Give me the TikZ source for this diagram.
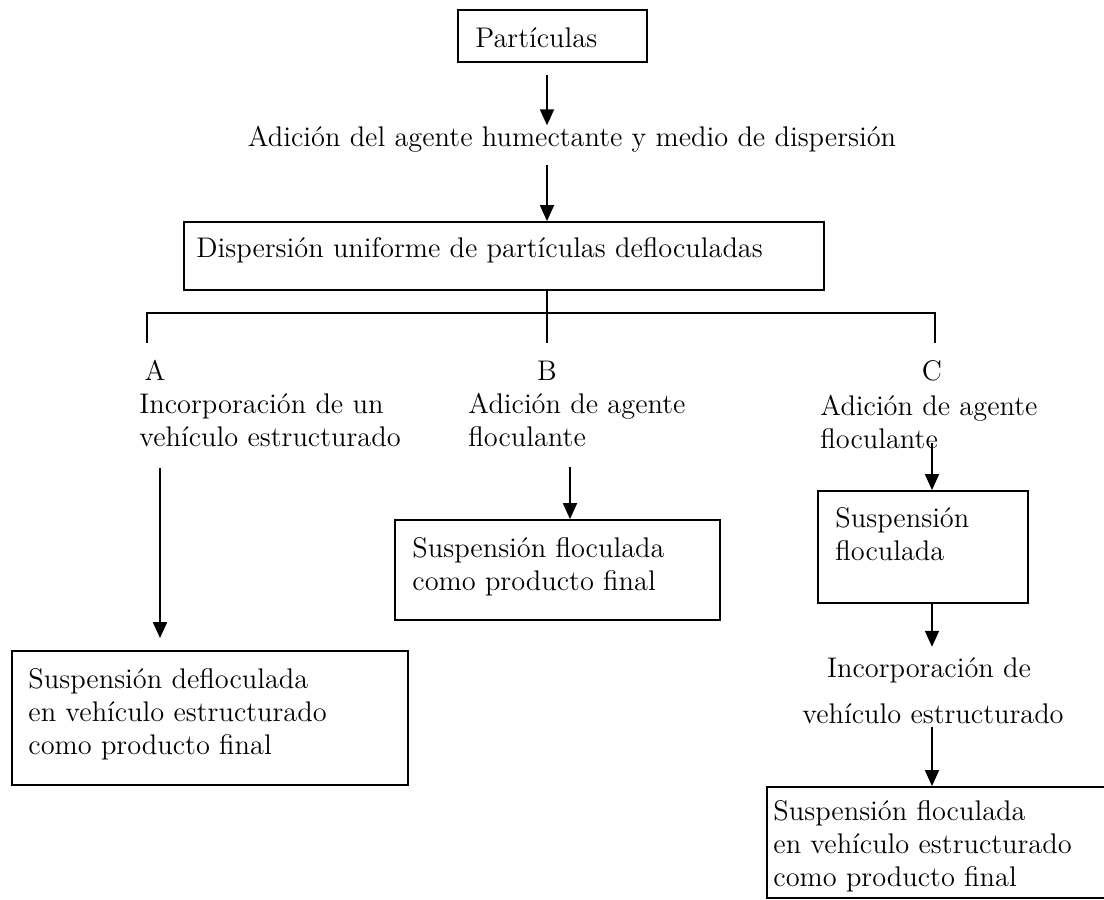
\documentclass[tikz,border=0pt]{standalone}
\usetikzlibrary{arrows.meta,fit}
\begin{document}
\begin{tikzpicture}[x=0.5pt,y=-0.5pt]
\tikzstyle{box node}=[rectangle,draw,line width=0.9pt,inner sep=0]
\tikzstyle{text node}=[inner sep=0,font=\fontsize{14.2}{16.5}\selectfont,align=left]
\tikzset{
	arr/.style={line width=0.9pt,-{Triangle[width=7pt,length=8pt]}},
	line/.style={line width=0.9pt}
}
\useasboundingbox (0,0) rectangle (1104,900);
% boxes
\node[box node,fit={(458,10) (647,62)}] (part) {};
\node[box node,fit={(184,222) (824,290)}] (disp) {};
\node[box node,fit={(12,651) (408,785)}] (boxA) {};
\node[box node,fit={(395,520) (720,620)}] (boxB) {};
\node[box node,fit={(818,491) (1028,603)}] (boxC) {};
\node[box node,fit={(767,787) (1112,898)}] (boxD) {};
% texts (base = last line)
\node[text node,anchor=base west] (parttxt) at (475,47) {Partículas};
\node[text node,anchor=base] (humect) at (572,146) {Adición del agente humectante y medio de dispersión};
\node[text node,anchor=base west] (disptxt) at (196,257) {Dispersión uniforme de partículas defloculadas};
\node[text node,anchor=base] (A) at (155,380) {A};
\node[text node,anchor=base] (B) at (547,380) {B};
\node[text node,anchor=base] (C) at (932,380) {C};
\node[text node,anchor=base west] (txtA) at (139,446) {Incorporación de un\\vehículo estructurado};
\node[text node,anchor=base west] (txtB) at (468,446) {Adición de agente\\floculante};
\node[text node,anchor=base west] (txtC) at (820,448) {Adición de agente\\floculante};
\node[text node,anchor=base west] (txtboxA) at (28,754) {Suspensión defloculada\\en vehículo estructurado\\como producto final};
\node[text node,anchor=base west] (txtboxB) at (412,590) {Suspensión floculada\\como producto final};
\node[text node,anchor=base west] (txtboxC) at (835,560) {Suspensión\\floculada};
\node[text node,anchor=base] (inc1) at (929,677) {Incorporación de};
\node[text node,anchor=base] (inc2) at (933,723) {vehículo estructurado};
\node[text node,anchor=base west] (txtboxD) at (773,886) {Suspensión floculada\\en vehículo estructurado\\como producto final};
% connectors
\coordinate (c1) at (547,75);
\coordinate (c2) at (547,165);
\coordinate (jA) at (147,313);
\coordinate (jB) at (547,313);
\coordinate (jC) at (935,313);
\coordinate (cA) at (160,468);
\coordinate (cB) at (570,467);
\coordinate (cC) at (932,443);
\coordinate (cD) at (932,727);
\draw[arr] (c1) -- (humect.north -| c1);
\draw[arr] (c2) -- (disp.north -| c2);
\draw[line] (disp.south -| jB) -- (jB) -- ([yshift=-15pt]jB);
\draw[line] ([yshift=-15pt]jA) -- (jA) -- (jC) -- ([yshift=-15pt]jC);
\draw[arr,shorten >=6pt] (cA) -- (cA |- boxA.north);
\draw[arr] (cB) -- (cB |- boxB.north);
\draw[arr] (cC) -- (cC |- boxC.north);
\draw[arr,shorten >=5pt] (boxC.south -| cC) -- (inc1.north -| cC);
\draw[arr] (cD) -- (cD |- boxD.north);
\end{tikzpicture}
\end{document}
